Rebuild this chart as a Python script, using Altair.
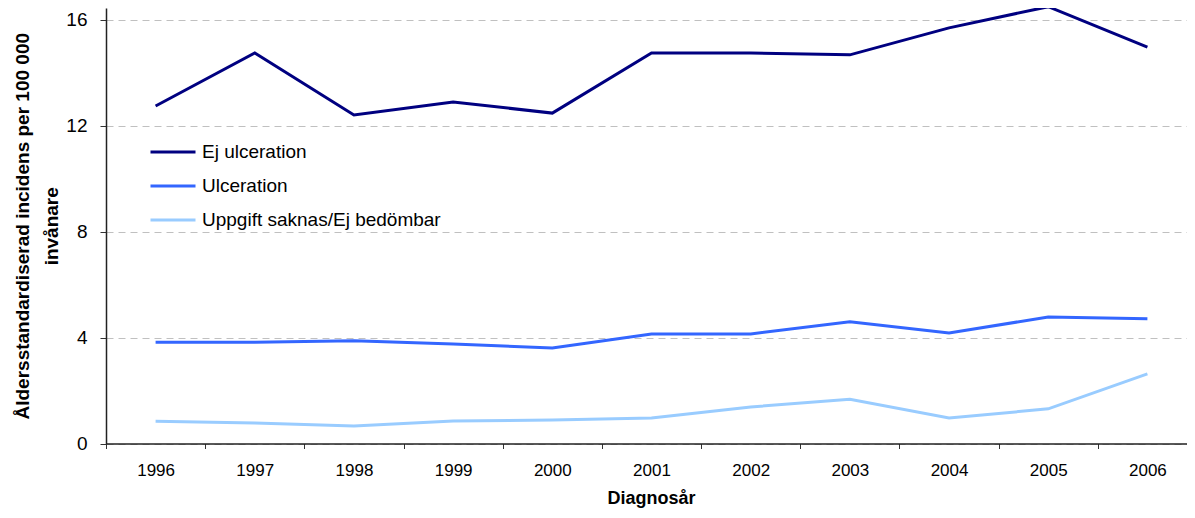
import altair as alt
import pandas as pd

years = [str(y) for y in range(1996, 2007)]
ej_ulceration = [12.75, 14.75, 12.41, 12.90, 12.48, 14.75, 14.75, 14.68, 15.70, 16.50, 14.97]
ulceration = [3.82, 3.82, 3.88, 3.76, 3.61, 4.14, 4.14, 4.60, 4.17, 4.78, 4.71]
uppgift_saknas = [0.84, 0.77, 0.66, 0.85, 0.89, 0.96, 1.38, 1.67, 0.96, 1.31, 2.63]
series = ["Ej ulceration", "Ulceration", "Uppgift saknas/Ej bedömbar"]
colors = ["#000080", "#3366FF", "#99CCFF"]
y_ticks = [0, 4, 8, 12, 16]

rows = []
for name, vals in zip(series, [ej_ulceration, ulceration, uppgift_saknas]):
    for yr, v in zip(years, vals):
        rows.append({"year": yr, "value": v, "series": name})
df = pd.DataFrame(rows)

FONT = "Liberation Sans"

chart = (
    alt.Chart(df)
    .mark_line(strokeWidth=3, clip=False)
    .encode(
        x=alt.X(
            "year:N",
            sort=years,
            scale=alt.Scale(type="band", paddingInner=0, paddingOuter=0, range=[0, 1091]),
            axis=alt.Axis(
                title="Diagnosår",
                titleX=545,
                labelAngle=0,
                labelFontSize=17,
                labelPadding=14,
                labelColor="#000",
                tickBand="extent",
                tickSize=5,
                tickColor="#333",
                domainColor="#222",
                domainWidth=1.5,
                grid=False,
                titleFontSize=18,
                titleFontWeight="bold",
                titlePadding=11,
                titleColor="#000",
            ),
        ),
        y=alt.Y(
            "value:Q",
            scale=alt.Scale(domain=[0, 16.45], nice=False),
            axis=alt.Axis(
                values=y_ticks,
                title=["Åldersstandardiserad incidens per 100 000", "invånare"],
                titleFontSize=19,
                titleFontWeight="bold",
                titleLineHeight=29,
                titleColor="#000",
                titlePadding=4,
                labelFontSize=19,
                labelPadding=13,
                labelColor="#000",
                tickSize=6,
                tickColor="#333",
                domainColor="#222",
                domainWidth=1.5,
                grid=True,
                gridColor="#c0c0c0",
                gridDash=[7, 5],
                gridWidth=1,
            ),
        ),
        color=alt.Color(
            "series:N",
            sort=series,
            scale=alt.Scale(domain=series, range=colors),
            legend=alt.Legend(
                title=None,
                orient="none",
                legendX=43,
                legendY=120,
                symbolType="stroke",
                symbolSize=2025,
                symbolStrokeWidth=3,
                labelFontSize=19,
                labelOffset=5,
                labelLimit=0,
                labelColor="#000",
                rowPadding=-6.5,
                padding=0,
            ),
        ),
    )
    .properties(
        width=1081,
        height=435.5,
        autosize=alt.AutoSizeParams(type="none"),
        padding={"left": 98, "top": 0, "right": 0, "bottom": 66.5},
    )
    .configure(font=FONT)
    .configure_view(stroke=None)
)

chart.save("out.html", embed_options={"renderer": "svg", "actions": False})
